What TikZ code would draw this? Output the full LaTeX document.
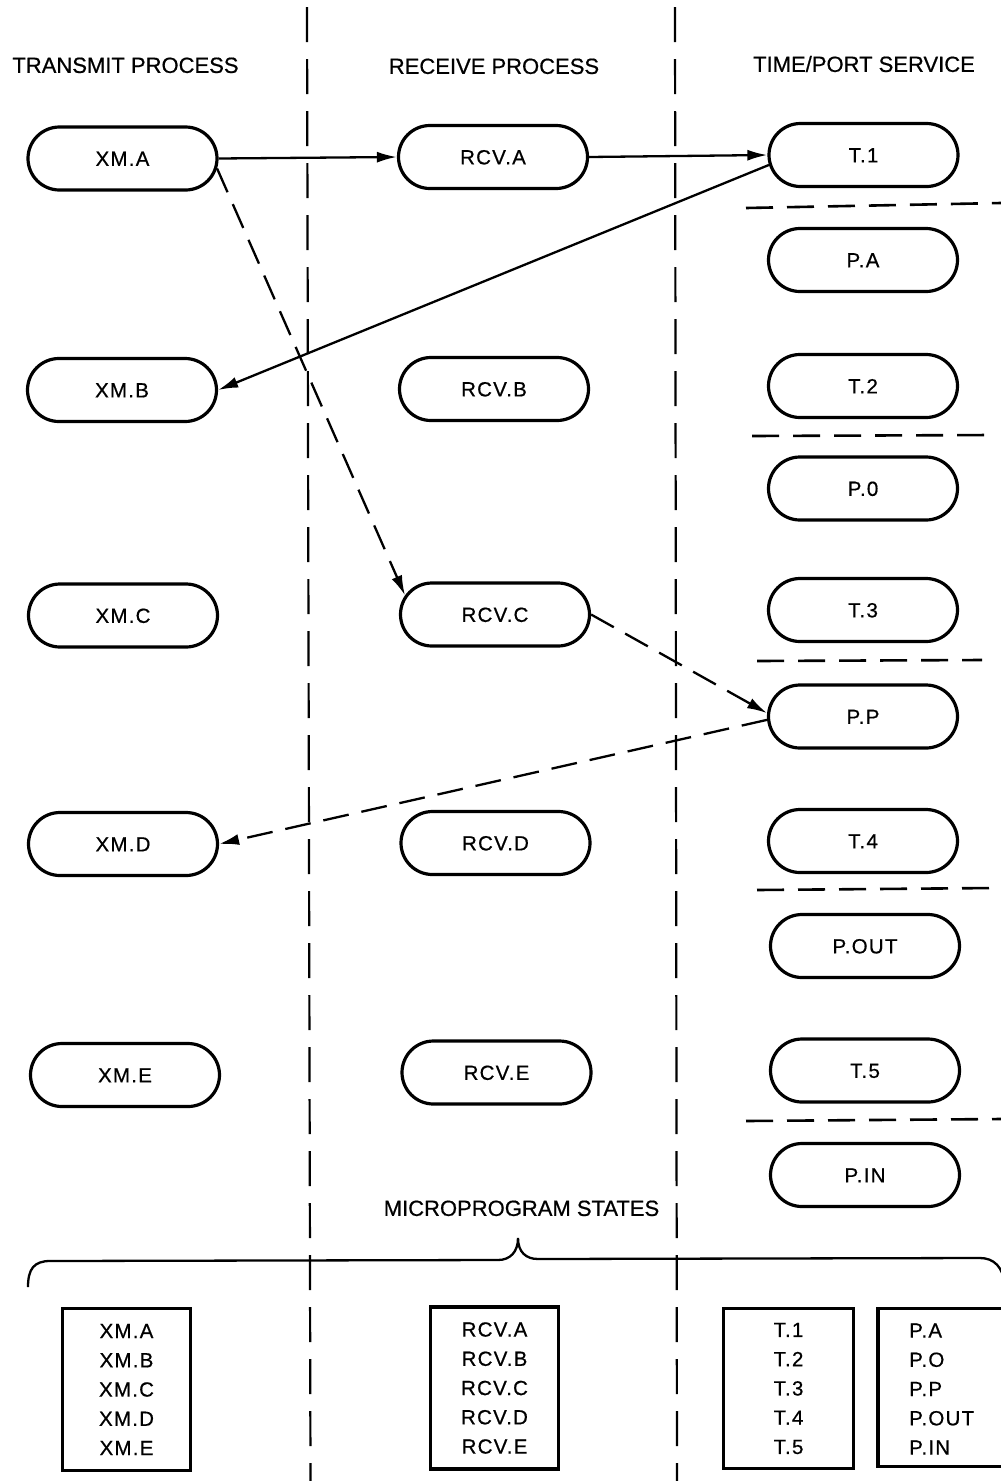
\documentclass[tikz,border=0pt]{standalone}
\usepackage{fontspec}
\setmainfont[FakeBold=0.6]{Liberation Sans}
\newfontfamily\lblfont[LetterSpace=6,FakeBold=0.6]{Liberation Sans}
\usetikzlibrary{shapes.misc,arrows.meta}
\begin{document}
\begin{tikzpicture}[x=1pt,y=-1pt,
  pill/.style={draw, rounded rectangle, line width=3.2pt, minimum width=189pt, minimum height=63pt, inner sep=0pt,
    font=\lblfont\fontsize{20.5}{23}\selectfont, text height=14.7pt, text depth=0pt},
  hdr/.style={font=\fontsize{22}{26}\selectfont, inner sep=0pt, text height=15.8pt, text depth=0pt},
  vsep/.style={line width=2.2pt, dash pattern=on 35pt off 17pt},
  hsep/.style={line width=2.6pt, dash pattern=on 27pt off 14pt},
  conn/.style={line width=2.3pt, -{Latex[length=20pt,width=11pt]}},
  dconn/.style={conn, dash pattern=on 26pt off 13pt},
  listbox/.style={draw, line width=3.8pt, inner sep=0pt, align=center,
    font=\lblfont\fontsize{20.5}{29.25}\selectfont},
  bracestyle/.style={line width=2.3pt}
]
\fill[white] (0,0) rectangle (1001,1481);
\useasboundingbox (0,0) rectangle (1001,1481);

% column separators
\draw[vsep] (307,7) -- (310.5,1481);
\draw[vsep] (675,7) -- (677,1481);

% headers
\node[hdr] (h1) at (125.5,65) {TRANSMIT PROCESS};
\node[hdr] (h2) at (494,66) {RECEIVE PROCESS};
\node[hdr] (h3) at (864,64) {TIME/PORT SERVICE};

% transmit states
\node[pill] (xma) at (122.5,158.5) {XM.A};
\node[pill] (xmb) at (122,390) {XM.B};
\node[pill] (xmc) at (123,615.5) {XM.C};
\node[pill] (xmd) at (123,844) {XM.D};
\node[pill] (xme) at (125,1075) {XM.E};

% receive states
\node[pill] (rcva) at (493,157) {RCV.A};
\node[pill] (rcvb) at (494,389) {RCV.B};
\node[pill] (rcvc) at (495,614.5) {RCV.C};
\node[pill] (rcvd) at (495.5,843) {RCV.D};
\node[pill] (rcve) at (496.5,1072.5) {RCV.E};

% time/port service states
\node[pill] (t1) at (863.5,155) {T.1};
\node[pill] (pa) at (863,260) {P.A};
\node[pill] (t2) at (863,386) {T.2};
\node[pill] (p0) at (863,488.5) {P.0};
\node[pill] (t3) at (863,610) {T.3};
\node[pill] (pp) at (863,716.5) {P.P};
\node[pill] (t4) at (863,841) {T.4};
\node[pill] (pout) at (865,946) {P.OUT};
\node[pill] (t5) at (865,1070.5) {T.5};
\node[pill] (pin) at (865,1175) {P.IN};

% separators in third column
\draw[hsep] (746,208) -- (1001,203);
\draw[hsep] (752,436) -- (992,435);
\draw[hsep] (757,661) -- (982,660);
\draw[hsep] (757,890) -- (995,888);
\draw[hsep] (746,1121) -- (1001,1119);

% connectors
\draw[conn] (xma.east) -- (rcva.west);
\draw[conn] (rcva.east) -- (t1.west);
\draw[conn] (t1.186) -- (xmb.east);
\draw[dconn] (xma.-6) -- (rcvc.168);
\draw[dconn] (rcvc.east) -- (pp.178);
\draw[dconn] (pp.182) -- (xmd.east);

% brace and caption
\node[hdr] (ms) at (521.5,1208) {MICROPROGRAM STATES};
\draw[bracestyle] (28,1287) .. controls (28,1269) and (34,1261) .. (50,1261)
  -- (498,1260) .. controls (510,1260) and (518,1252) .. (518,1238)
  .. controls (518,1252) and (526,1259) .. (538,1259)
  -- (980,1258) .. controls (994,1258) and (1003,1267) .. (1005,1285);

% state lists
\node[listbox, minimum width=128pt, minimum height=162pt] (xmlist) at (126.5,1389.5) {XM.A\\XM.B\\XM.C\\XM.D\\XM.E};
\node[listbox, minimum width=128pt, minimum height=162pt] (rcvlist) at (494.5,1388) {RCV.A\\RCV.B\\RCV.C\\RCV.D\\RCV.E};
\node[listbox, minimum width=130pt, minimum height=160pt] (tlist) at (788.5,1388.5) {T.1\\T.2\\T.3\\T.4\\T.5};
\node[listbox, minimum width=164pt, minimum height=158pt] (pbox) at (960,1387.5) {};
\node[inner sep=0pt, align=left, anchor=west, font=\lblfont\fontsize{20.5}{29.25}\selectfont] (plist) at (909,1389) {P.A\\P.O\\P.P\\P.OUT\\P.IN};
\end{tikzpicture}
\end{document}
